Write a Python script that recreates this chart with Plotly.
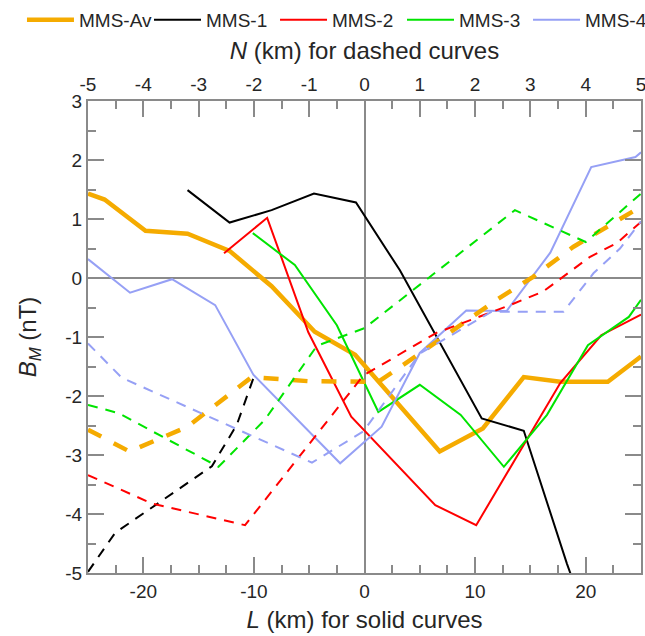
import plotly.graph_objects as go

# ---------------- data ----------------
# solid curves (x = L in km)
av_L = [-25, -23.5, -19.8, -16.0, -12.2, -8.4, -4.5, -0.85, 6.8, 10.7, 14.4, 17.7, 22.0, 25.0]
av_B = [1.43, 1.33, 0.80, 0.75, 0.46, -0.14, -0.91, -1.30, -2.94, -2.55, -1.68, -1.76, -1.76, -1.33]

m1_L = [-16.0, -12.2, -8.4, -4.57, -0.77, 3.2, 10.6, 14.4, 18.3, 18.7]
m1_B = [1.49, 0.94, 1.15, 1.43, 1.28, 0.13, -2.38, -2.59, -4.84, -5.05]

m2_L = [-12.7, -8.8, -5.08, -1.2, 6.4, 10.1, 17.7, 21.4, 25.0]
m2_B = [0.42, 1.02, -0.92, -2.35, -3.85, -4.19, -1.78, -0.97, -0.62]

m3_L = [-10.1, -6.3, -2.5, 1.25, 5.0, 8.7, 12.6, 16.5, 20.2, 23.9, 25.0]
m3_B = [0.76, 0.22, -0.80, -2.27, -1.81, -2.32, -3.20, -2.32, -1.14, -0.66, -0.37]

m4_L = [-25, -21.2, -17.4, -13.5, -10.05, -2.2, 1.55, 5.0, 9.2, 12.85, 16.8, 20.5, 24.5, 25.0]
m4_B = [0.32, -0.25, -0.02, -0.46, -1.64, -3.14, -2.52, -1.27, -0.55, -0.56, 0.43, 1.88, 2.05, 2.13]

# dashed curves (x = N in km)
av_N = [-5, -4.25, -3.2, -2.04, -1.0, 0.25, 1.0, 2.39, 3.05, 3.78, 5.0]
av_Bn = [-2.57, -2.94, -2.52, -1.68, -1.75, -1.76, -1.28, -0.37, 0.02, 0.53, 1.21]

m1_N = [-5, -4.51, -2.76, -2.31, -2.01]
m1_Bn = [-4.98, -4.32, -3.19, -2.49, -1.70]

m2_N = [-5, -3.85, -2.16, -0.02, 1.3, 2.63, 3.23, 4.08, 4.56, 5.0]
m2_Bn = [-3.34, -3.82, -4.19, -1.65, -0.93, -0.46, -0.23, 0.36, 0.59, 0.95]

m3_N = [-5, -4.45, -2.64, -1.8, -0.86, 0.0, 2.72, 4.0, 5.0]
m3_Bn = [-2.15, -2.29, -3.20, -2.40, -1.15, -0.85, 1.15, 0.61, 1.43]

m4_N = [-5, -4.39, -0.95, -0.02, 1.0, 2.3, 3.6, 4.14, 4.62, 5.0]
m4_Bn = [-1.11, -1.69, -3.13, -2.60, -1.28, -0.57, -0.57, 0.08, 0.50, 0.96]

names = ["MMS-Av", "MMS-1", "MMS-2", "MMS-3", "MMS-4"]
colors = ["#F5AB00", "#000000", "#FF0000", "#00E400", "#96A0F5"]

L_tick_vals = [-20, -10, 0, 10, 20]
L_tick_text = ["-20", "-10", "0", "10", "20"]
L_long_tick_vals = [-25, -20, -15, -10, -5, 0, 5, 10, 15, 20, 25]
N_tick_vals = [-5, -4, -3, -2, -1, 0, 1, 2, 3, 4, 5]
N_tick_text = ["-5", "-4", "-3", "-2", "-1", "0", "1", "2", "3", "4", "5"]
B_tick_vals = [-5, -4, -3, -2, -1, 0, 1, 2, 3]
B_tick_text = ["-5", "-4", "-3", "-2", "-1", "0", "1", "2", "3"]

solid = [(av_L, av_B), (m1_L, m1_B), (m2_L, m2_B), (m3_L, m3_B), (m4_L, m4_B)]
dashed = [(av_N, av_Bn), (m1_N, m1_Bn), (m2_N, m2_Bn), (m3_N, m3_Bn), (m4_N, m4_Bn)]

FONT = "Liberation Sans, Arial, Helvetica, sans-serif"
GRAY = "#8a8a8a"
TXT = "#262626"

fig = go.Figure()
legend_ids = ["legend", "legend2", "legend3", "legend4", "legend5"]
for i, (nm, col) in enumerate(zip(names, colors)):
    w = 4.5 if i == 0 else 2.0
    dash = "15px,14px" if i == 0 else "10px,8px"
    xs, ys = solid[i]
    fig.add_trace(go.Scatter(x=xs, y=ys, mode="lines", name=nm,
                             line=dict(color=col, width=w),
                             xaxis="x", yaxis="y", legend=legend_ids[i],
                             showlegend=True))
    xn, yn = dashed[i]
    fig.add_trace(go.Scatter(x=xn, y=yn, mode="lines", name=nm + " (N)",
                             line=dict(color=col, width=w, dash=dash),
                             xaxis="x2", yaxis="y", showlegend=False))

tickfont = dict(family=FONT, size=19, color=TXT)
titlefont = dict(family=FONT, size=24, color=TXT)

legend_x = [-0.1194, 0.1103, 0.3382, 0.5678, 0.7957]
leg_common = dict(orientation="h", yanchor="middle", y=1.172, xanchor="left",
                  bgcolor="rgba(0,0,0,0)", borderwidth=0, itemwidth=47,
                  font=dict(family=FONT, size=19, color=TXT), tracegroupgap=0)
layout_legends = {}
for lid, lx in zip(legend_ids, legend_x):
    layout_legends[lid] = dict(x=lx, **leg_common)

fig.update_layout(
    width=645, height=636,
    margin=dict(l=88, r=4, t=101, b=63, autoexpand=False),
    paper_bgcolor="white", plot_bgcolor="white",
    font=dict(family=FONT, color=TXT),
    **layout_legends,
    xaxis=dict(range=[-25, 25], tickmode="array", tickvals=L_tick_vals, ticktext=L_tick_text,
               ticks="inside", ticklen=16, tickwidth=1.5, tickcolor=GRAY,
               minor=dict(tickmode="linear", tick0=0, dtick=2.5, ticks="inside", ticklen=8,
                          tickwidth=1.5, tickcolor=GRAY, showgrid=False),
               showline=True, linecolor=GRAY, linewidth=2, showgrid=False,
               zeroline=True, zerolinecolor=GRAY, zerolinewidth=2,
               tickfont=tickfont, ticklabeloverflow="allow",
               title=dict(text="<i>L</i> (km) for solid curves", font=titlefont, standoff=10)),
    xaxis3=dict(range=[-25, 25], overlaying="x", side="bottom", anchor="y",
                tickmode="array", tickvals=L_long_tick_vals, showticklabels=False,
                ticks="inside", ticklen=16, tickwidth=1.5, tickcolor=GRAY,
                showline=False, showgrid=False, zeroline=False),
    xaxis2=dict(range=[-5, 5], overlaying="x", side="top", anchor="y",
                tickmode="array", tickvals=N_tick_vals, ticktext=N_tick_text,
                ticks="inside", ticklen=16, tickwidth=1.5, tickcolor=GRAY,
                minor=dict(tickmode="linear", tick0=0, dtick=0.5, ticks="inside", ticklen=8,
                           tickwidth=1.5, tickcolor=GRAY, showgrid=False),
                showline=True, linecolor=GRAY, linewidth=2, showgrid=False, zeroline=False,
                tickfont=tickfont, ticklabeloverflow="allow",
                title=dict(text="<i>N</i> (km) for dashed curves", font=titlefont, standoff=8)),
    yaxis=dict(range=[-5, 3], tickmode="array", tickvals=B_tick_vals, ticktext=B_tick_text,
               ticks="inside", ticklen=16, tickwidth=1.5, tickcolor=GRAY,
               minor=dict(tickmode="linear", tick0=0, dtick=0.5, ticks="inside", ticklen=8,
                          tickwidth=1.5, tickcolor=GRAY, showgrid=False),
               mirror="ticks", showline=True, linecolor=GRAY, linewidth=2, showgrid=False,
               zeroline=True, zerolinecolor=GRAY, zerolinewidth=2,
               tickfont=tickfont, ticklabeloverflow="allow",
               title=dict(text="<i>B</i><sub><i>M</i></sub> (nT)", font=titlefont, standoff=22)),
)

fig.write_html("out.html")
